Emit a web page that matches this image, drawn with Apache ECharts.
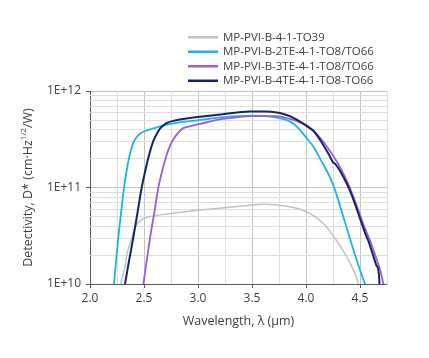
<!DOCTYPE html>
<html>
<head>
<meta charset="utf-8">
<script src="https://cdn.jsdelivr.net/npm/echarts@6/dist/echarts.min.js"></script>
<style>
html,body{margin:0;padding:0;background:#fff;}
#chart{width:429px;height:358px;}
</style>
</head>
<body>
<div id="chart"></div>
<script>
var seriesNames = ['MP-PVI-B-4-1-TO39', 'MP-PVI-B-2TE-4-1-TO8/TO66', 'MP-PVI-B-3TE-4-1-TO8/TO66', 'MP-PVI-B-4TE-4-1-TO8-TO66'];
var xTickValues = [2.0, 2.5, 3.0, 3.5, 4.0, 4.5];
var xMinorGrid = [2.25, 2.75, 3.25, 3.75, 4.25, 4.75];
var yMinorGrid = [2e10, 3e10, 4e10, 5e10, 6e10, 7e10, 8e10, 9e10, 2e11, 3e11, 4e11, 5e11, 6e11, 7e11, 8e11, 9e11];

var wlTO39 = [2.284, 2.30, 2.324, 2.34, 2.37, 2.40, 2.417, 2.44, 2.463, 2.50, 2.556, 2.71, 3.02, 3.39, 3.636, 3.75, 3.85, 3.93, 4.006, 4.08, 4.16, 4.22, 4.28, 4.33, 4.377, 4.42, 4.454, 4.475, 4.484];
var dTO39  = [1.0e10, 1.17e10, 1.5e10, 2.0e10, 2.62e10, 3.33e10, 3.89e10, 4.27e10, 4.47e10, 4.79e10, 5.01e10, 5.3e10, 5.83e10, 6.41e10, 6.7e10, 6.53e10, 6.31e10, 6.03e10, 5.6e10, 5.01e10, 4.24e10, 3.55e10, 2.84e10, 2.34e10, 1.91e10, 1.55e10, 1.28e10, 1.1e10, 1.0e10];

var wl2TE = [2.222, 2.262, 2.29, 2.315, 2.34, 2.36, 2.38, 2.40, 2.43, 2.46, 2.50, 2.55, 2.62, 2.77, 3.02, 3.23, 3.50, 3.65, 3.76, 3.85, 3.92, 4.0, 4.07, 4.15, 4.22, 4.27, 4.377, 4.47, 4.546];
var d2TE  = [1.0e10, 3.0e10, 5.75e10, 1.0e11, 1.51e11, 2.0e11, 2.45e11, 2.88e11, 3.31e11, 3.59e11, 3.8e11, 3.98e11, 4.2e11, 4.62e11, 5.01e11, 5.35e11, 5.55e11, 5.45e11, 5.2e11, 4.85e11, 4.22e11, 3.31e11, 2.63e11, 1.82e11, 1.29e11, 9.33e10, 3.8e10, 1.76e10, 1.0e10];

var wl3TE = [2.494, 2.556, 2.60, 2.632, 2.67, 2.71, 2.74, 2.772, 2.82, 2.864, 2.93, 3.02, 3.23, 3.50, 3.73, 3.85, 3.91, 4.0, 4.07, 4.15, 4.22, 4.30, 4.377, 4.43, 4.48, 4.53, 4.593, 4.64, 4.685, 4.716];
var d3TE  = [1.0e10, 3.0e10, 5.89e10, 9.89e10, 1.51e11, 2.19e11, 2.69e11, 3.16e11, 3.72e11, 4.12e11, 4.32e11, 4.57e11, 5.13e11, 5.5e11, 5.5e11, 5.13e11, 4.9e11, 4.47e11, 3.85e11, 3.09e11, 2.4e11, 1.74e11, 1.18e11, 8.51e10, 6.03e10, 4.17e10, 2.82e10, 2.0e10, 1.41e10, 1.0e10];

var wl4TE = [2.324, 2.36, 2.40, 2.44, 2.478, 2.525, 2.555, 2.586, 2.62, 2.648, 2.68, 2.71, 2.77, 2.83, 2.926, 3.02, 3.23, 3.48, 3.62, 3.73, 3.80, 3.85, 3.91, 3.98, 4.07, 4.15, 4.22, 4.25, 4.27, 4.30, 4.35, 4.40, 4.45, 4.50, 4.55, 4.58, 4.62, 4.65, 4.665, 4.675, 4.68];
var d4TE  = [1.0e10, 1.7e10, 3.0e10, 5.5e10, 9.89e10, 1.73e11, 2.34e11, 3.02e11, 3.63e11, 4.07e11, 4.42e11, 4.66e11, 4.9e11, 5.07e11, 5.25e11, 5.41e11, 5.75e11, 6.12e11, 6.12e11, 6.0e11, 5.75e11, 5.5e11, 5.08e11, 4.52e11, 3.85e11, 2.88e11, 2.11e11, 1.82e11, 1.76e11, 1.58e11, 1.26e11, 9.66e10, 6.92e10, 4.79e10, 3.31e10, 2.75e10, 2.0e10, 1.58e10, 1.48e10, 1.26e10, 1.0e10];

var colors = ['#c3c3c3', '#19b4ea', '#9c5ddb', '#14265e'];
var widths = [1.5, 1.8, 1.8, 2];

function zip(a, b) { return a.map(function (v, i) { return [v, b[i]]; }); }
var datasets = [zip(wlTO39, dTO39), zip(wl2TE, d2TE), zip(wl3TE, d3TE), zip(wl4TE, d4TE)];

var FONT = '"Open Sans", "DejaVu Sans", sans-serif';
var TXT = '#404040';

var series = [{
  name: 'grid',
  type: 'line',
  data: [],
  silent: true,
  markLine: {
    silent: true,
    symbol: ['none', 'none'],
    z: 1,
    label: {show: false},
    lineStyle: {color: '#dedede', width: 1, type: 'solid'},
    emphasis: {disabled: true},
    data: xMinorGrid.map(function (v) { return {xAxis: v}; })
      .concat(yMinorGrid.map(function (v) { return {yAxis: v}; }))
  }
}];
seriesNames.forEach(function (n, i) {
  series.push({
    name: n,
    type: 'line',
    data: datasets[i],
    showSymbol: false,
    smooth: 0.3,
    z: 3,
    lineStyle: {color: colors[i], width: widths[i]},
    itemStyle: {color: colors[i]}
  });
});

var chart = echarts.init(document.getElementById('chart'), null, {renderer: 'canvas'});
chart.setOption({
  animation: false,
  backgroundColor: '#fff',
  grid: {left: 90, right: 42, top: 91, bottom: 74, containLabel: false},
  legend: {
    data: seriesNames,
    orient: 'vertical',
    left: 188,
    top: 30,
    padding: 0,
    itemWidth: 30,
    itemHeight: 2.5,
    itemGap: 0,
    icon: 'rect',
    textStyle: {fontFamily: FONT, fontSize: 11.5, color: TXT, lineHeight: 14.5}
  },
  xAxis: {
    type: 'value',
    min: 2.0,
    max: 4.75,
    interval: 0.5,
    name: 'Wavelength, λ (μm)',
    nameLocation: 'middle',
    nameGap: 31,
    nameTextStyle: {fontFamily: FONT, fontSize: 12.5, color: TXT},
    axisLine: {show: true, lineStyle: {color: '#595959', width: 1}},
    axisTick: {show: true, length: 4, inside: false, customValues: xTickValues, lineStyle: {color: '#595959'}},
    axisLabel: {customValues: xTickValues, fontFamily: FONT, fontSize: 12, color: TXT, margin: 9,
      formatter: function (v) { return v.toFixed(1); }},
    splitLine: {show: true, lineStyle: {color: '#c4c4c4', width: 1}}
  },
  yAxis: {
    type: 'log',
    logBase: 10,
    min: 1e10,
    max: 1e12,
    name: 'Detectivity, D* (cm·Hz{sup|1/2}/W)',
    nameLocation: 'middle',
    nameRotate: 90,
    nameGap: 42,
    nameTextStyle: {
      fontFamily: FONT, fontSize: 12.5, color: TXT, lineHeight: 16,
      rich: {sup: {fontFamily: FONT, fontSize: 8, color: TXT, verticalAlign: 'top', lineHeight: 9}}
    },
    axisLine: {show: true, lineStyle: {color: '#595959', width: 1}},
    axisTick: {show: true, length: 4, inside: false, lineStyle: {color: '#595959'}},
    axisLabel: {fontFamily: FONT, fontSize: 12, color: TXT, margin: 9,
      formatter: function (v) { return '1E+' + Math.round(Math.log10(v)); }},
    splitLine: {show: true, lineStyle: {color: '#c4c4c4', width: 1}},
    minorTick: {show: false},
    minorSplitLine: {show: false}
  },
  series: series
});
</script>
</body>
</html>
